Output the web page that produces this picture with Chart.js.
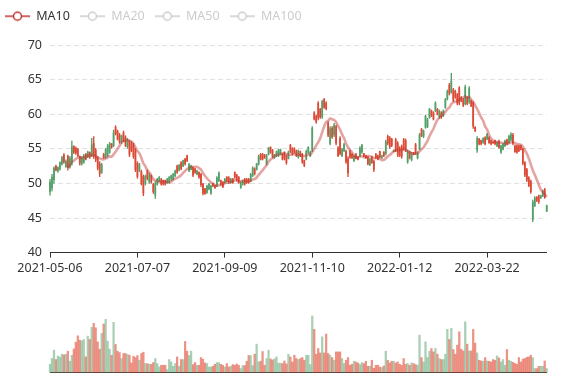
<!DOCTYPE html>
<html><head><meta charset="utf-8">
<script src="https://cdn.jsdelivr.net/npm/chart.js@4/dist/chart.umd.min.js"></script>
<style>
html,body{margin:0;padding:0;background:#fff;width:577px;height:380px;overflow:hidden;position:relative}
#c1{position:absolute;left:-5px;top:0}
#c2{position:absolute;left:-5px;top:300px}
</style></head><body>
<canvas id="c1" width="582" height="283"></canvas>
<canvas id="c2" width="582" height="80"></canvas>
<script>
const tickLabels = ['2021-05-06','2021-07-07','2021-09-09','2021-11-10','2022-01-12','2022-03-22'];
const tickEvery = 44;
const legendNames = ['MA10','MA20','MA50','MA100'];

const open = [
48.8,49.3,50.5,52.5,51.8,52.1,52.8,54.1,52.4,53.9,
52.4,53.0,55.3,55.1,54.9,53.9,52.9,53.1,54.2,53.8,
54.5,54.0,55.8,54.8,53.6,52.8,51.6,54.2,53.8,54.0,
54.5,55.7,55.5,58.1,57.5,57.0,56.0,57.3,56.7,55.3,
56.0,55.8,55.5,54.8,52.9,51.9,51.7,51.0,50.0,51.7,
50.2,51.0,49.9,48.3,49.9,50.3,50.6,50.4,50.4,50.1,
50.2,50.7,50.6,51.1,52.5,51.9,53.0,52.5,53.5,54.0,
51.8,52.0,52.3,52.1,51.3,51.6,51.3,49.9,49.2,48.7,
49.2,48.6,49.95,49.7,49.6,50.4,50.4,50.2,50.1,50.9,
50.8,50.1,50.6,51.6,51.2,50.9,49.4,49.9,50.6,50.6,
50.6,50.4,51.1,52.1,52.0,52.8,54.2,54.2,54.1,52.9,
54.2,55.2,54.8,53.7,54.0,54.0,54.2,54.2,54.5,54.0,
53.6,55.5,55.0,55.0,54.7,53.8,54.6,54.2,53.3,53.5,
54.5,54.0,54.8,60.2,59.7,61.6,60.7,59.6,62.1,61.6,
58.7,55.8,58.0,57.0,58.2,55.1,56.5,54.0,54.7,54.6,
53.6,54.6,54.2,53.3,54.2,53.8,54.0,54.5,54.3,54.0,
53.8,52.7,53.8,53.2,54.2,54.0,54.6,53.7,54.5,54.3,
56.8,56.6,56.4,54.6,56.3,55.8,55.1,55.3,56.3,56.2,
53.1,54.5,53.4,54.4,55.6,53.7,55.0,57.8,56.8,58.1,
58.2,59.5,60.5,60.2,60.5,60.7,59.6,60.2,59.8,61.0,
62.2,64.2,63.2,63.5,63.3,62.8,63.8,62.4,62.1,61.5,
62.4,61.8,61.9,61.6,58.1,54.8,56.4,56.2,55.9,56.6,
56.4,56.6,56.2,56.0,56.2,55.4,56.1,54.5,54.9,55.4,
56.3,55.9,56.3,57.0,55.4,55.4,55.4,55.4,54.9,53.0,
52.0,50.8,50.3,44.8,46.8,48.0,48.2,47.9,48.2,49.1,
46.0];
const high = [
50.6,51.3,52.4,52.65,52.4,53.1,53.9,54.3,53.4,54.1,
53.9,56.1,55.45,55.3,55.06,54.0,53.86,54.2,54.34,54.68,
54.58,56.5,56.75,55.06,53.86,53.14,52.9,54.34,55.06,55.64,
55.93,55.79,57.71,58.34,57.71,57.23,56.99,57.57,56.89,56.51,
56.27,56.03,55.79,55.06,53.14,52.9,51.93,51.21,51.21,51.93,
51.45,51.21,50.01,50.25,50.73,50.97,50.73,50.49,50.49,50.73,
50.97,51.2,51.45,51.93,52.65,52.75,53.14,53.38,53.62,54.1,
52.9,52.65,52.41,52.17,51.93,51.69,51.45,50.01,49.28,49.76,
50.01,49.76,50.01,49.76,50.97,51.69,50.49,50.25,50.73,50.97,
50.97,50.73,50.73,51.69,51.31,50.97,50.25,50.49,50.73,50.73,
50.73,51.45,52.41,52.27,52.9,54.1,54.34,54.34,54.2,54.2,
55.21,55.3,54.92,54.2,54.68,54.92,54.97,54.34,54.58,54.1,
54.68,55.65,55.17,55.17,54.83,54.83,54.68,54.35,53.38,54.83,
55.31,54.68,58.2,60.37,59.88,61.81,60.85,62.05,62.29,61.81,
58.92,58.2,58.2,58.68,58.44,55.31,56.75,55.07,55.79,54.83,
53.86,54.83,54.35,54.1,54.35,53.86,55.31,55.65,54.35,54.1,
53.86,53.62,53.86,53.38,54.35,54.1,54.68,54.1,54.59,56.27,
57.0,56.75,56.51,54.85,56.51,56.03,55.31,55.55,56.51,56.42,
54.83,54.68,54.49,54.49,55.79,54.59,57.24,57.96,57.72,59.88,
59.4,60.85,60.61,60.37,61.81,60.85,60.61,60.37,60.61,62.29,
63.5,64.46,65.91,63.74,63.5,63.02,63.98,62.53,62.29,64.22,
62.53,63.98,62.05,61.81,58.2,56.75,56.51,56.27,56.61,56.75,
57.24,56.75,56.27,56.03,56.27,56.03,56.27,55.55,55.79,56.27,
56.42,56.99,57.33,57.24,55.55,55.55,55.55,55.55,55.07,53.14,
52.18,50.97,50.49,47.6,48.08,48.08,48.32,48.32,49.05,49.29,
46.88];
const low = [
48.3,48.9,50.0,51.8,51.6,51.9,52.65,52.9,52.3,51.9,
52.2,52.65,54.3,54.2,53.86,52.65,52.65,52.9,53.38,53.71,
53.62,53.86,53.62,53.14,51.93,50.97,51.45,53.62,53.62,53.86,
54.34,55.06,55.3,56.99,56.27,55.79,55.79,56.03,55.3,55.06,
53.86,54.58,53.62,51.69,50.73,51.69,49.76,48.22,49.76,50.49,
50.01,50.01,48.56,47.84,49.76,50.25,49.76,49.76,49.76,50.01,
50.01,50.4,50.49,50.97,51.45,51.79,51.93,52.41,52.65,53.14,
51.69,51.93,50.97,51.45,51.21,50.73,49.52,48.32,48.42,48.56,
49.04,48.42,49.52,49.28,49.52,50.25,49.76,49.38,50.01,50.25,
50.01,50.01,50.01,50.73,50.34,50.01,49.28,49.76,49.76,50.01,
50.01,50.25,50.97,51.21,51.93,52.65,53.38,53.38,53.62,52.65,
54.1,54.34,53.71,53.62,53.86,53.86,54.1,53.38,53.38,52.75,
53.52,54.44,54.1,54.35,53.86,53.62,53.86,52.9,52.42,53.38,
54.35,53.86,54.59,59.16,58.68,59.16,59.4,59.4,60.85,60.61,
56.75,55.55,56.51,56.75,55.55,53.86,54.1,53.86,54.59,52.9,
50.97,53.62,53.62,53.14,53.53,53.38,53.86,54.35,53.86,53.62,
52.66,52.56,52.9,51.7,53.62,53.38,53.72,53.62,53.86,54.1,
55.55,55.07,55.31,54.55,54.59,53.86,53.86,53.62,54.83,54.59,
52.9,53.53,53.24,54.1,54.2,53.53,54.83,56.75,56.61,57.96,
58.05,59.4,59.64,59.16,60.37,59.88,59.4,59.4,59.64,60.85,
62.05,62.77,63.02,61.81,62.29,61.33,61.33,61.81,61.09,61.33,
61.33,61.57,61.09,57.96,57.48,54.49,55.55,55.55,55.79,55.55,
56.27,55.79,55.55,55.79,55.55,55.31,55.07,54.35,54.83,55.31,
55.55,55.79,56.13,55.55,54.49,54.35,54.59,54.83,52.66,50.97,
50.25,49.53,48.56,44.47,46.64,47.36,47.12,47.84,48.08,47.84,
45.92];
const close = [
50.2,50.9,52.2,51.9,52.3,53.0,53.7,53.1,53.2,52.3,
53.6,55.3,54.5,54.4,54.0,52.9,53.7,54.0,53.5,54.5,
53.8,55.6,54.0,53.4,52.2,51.4,52.7,53.7,54.9,55.4,
55.7,55.2,57.3,57.2,56.4,56.0,56.8,56.2,55.5,56.3,
54.2,54.8,53.9,52.0,51.0,52.7,50.0,48.6,51.0,50.7,
51.2,50.2,48.8,49.9,50.6,50.9,49.9,49.9,49.9,50.6,
50.9,51.1,51.3,51.8,51.6,52.6,52.1,53.3,52.8,53.3,
52.7,52.5,51.2,51.6,51.8,50.9,49.8,48.6,48.5,49.6,
49.9,49.6,49.6,49.35,50.8,51.5,49.9,49.5,50.6,50.3,
50.2,50.6,50.1,50.9,50.5,50.2,50.1,50.4,49.9,50.1,
50.15,51.3,52.2,51.4,52.8,53.9,53.5,53.5,53.7,54.0,
55.1,54.5,53.9,54.1,54.6,54.8,54.9,53.5,53.6,53.0,
54.5,54.6,54.3,54.5,54.0,54.7,54.0,53.1,52.6,54.6,
55.2,54.5,58.0,59.3,58.9,59.5,59.6,61.8,61.0,60.8,
57.0,57.9,56.7,58.4,55.8,54.0,54.3,54.9,55.6,53.1,
51.5,53.8,53.7,53.9,53.6,53.45,55.1,55.5,53.9,53.7,
52.8,53.5,53.0,52.0,53.7,53.5,53.8,54.0,53.95,56.0,
55.8,55.3,55.5,54.8,54.8,54.1,54.0,53.9,55.0,54.8,
54.6,53.7,54.3,54.15,54.4,54.4,57.0,56.9,57.6,59.7,
59.2,60.7,59.8,59.3,61.6,60.0,60.4,59.6,60.5,62.1,
63.3,63.0,64.8,62.0,62.5,61.6,61.6,61.9,61.3,63.9,
61.5,63.7,61.2,58.3,57.6,56.5,55.7,55.7,56.5,55.7,
57.1,55.9,55.7,55.85,55.7,55.9,55.2,55.4,55.7,56.1,
55.7,56.8,57.1,55.8,54.6,54.5,54.7,54.9,52.9,51.2,
50.5,49.7,48.8,47.3,47.9,47.5,47.3,48.2,48.9,48.0,
46.8];
const volume = [
8,13.7,22,12.7,16.3,15,18,17.3,18,21,
11,17,23.3,30,36.3,32,31.3,32.7,15.3,36,
32.7,44.7,48.7,44.3,30.3,23,38.7,48,52.7,31,
23,17,49.7,27.7,21,19.7,13.7,18.7,18.7,17.7,
17,9.3,16,14.7,16.7,12,18.7,20,8.7,8.7,
8,8,9.7,13.7,8.7,5.3,7,7,7,2.7,
12.7,10.3,6,8.7,15.3,6,12.7,12.7,30.7,21,
16.7,21,7.7,9.7,7,7,14.7,13,9.3,8.7,
5.3,5.3,6,8,9.7,9.7,8,7,5.3,8.7,
5.3,6,7.7,7,8.3,7,3.7,6.7,6.7,11,
16.7,16.7,6.7,18,28,10.3,11,20.7,7,13.7,
22,13.3,12.3,13.3,15.3,9,9,8.7,11.3,8.3,
18,15.3,10.3,17,13.7,12.7,13.7,14.7,12,17,
17,7.7,56,42.7,18,23.7,19.3,35.3,19.3,38,
18.7,17,14.7,12,20.3,20.3,20.3,13.7,8.7,12,
14.7,7,8,11,10.3,9.3,7.7,9.7,8.7,11,
6,6,12,4,7,7,5.3,4.7,6.3,21,
12,9.3,11,11,9.3,10.3,8,7,13.7,8,
8.7,7,9.3,8.7,7.7,7,37,14.7,10.3,30.3,
14.7,21,23.7,20.3,23.7,18,13.7,12.7,12.7,18,
42.7,32.7,43.7,22.7,18,27,40.3,23,21.3,50.3,
28,21.3,21.3,42.7,29,19.3,12,11.3,11,14.7,
11.3,11,10.3,12.7,12,16.3,14.3,10.3,12.7,7,
22.7,12,11,10,8.7,8,14.7,10.3,13,13.7,
15,15.3,17,14.7,3.7,3.7,6,6,6,11.3,
3.7];

const UP = '#54a06a', DOWN = '#dc4a36';
const UPV = 'rgba(84,160,106,0.5)', DOWNV = 'rgba(226,80,60,0.62)';
const labels = close.map((_, i) => i % tickEvery === 0 ? (tickLabels[i / tickEvery] || '') : '');
const ma10 = close.map((_, i) => {
  if (i < 9) return null;
  let s = 0; for (let j = i - 9; j <= i; j++) s += close[j];
  return s / 10;
});
const isUp = close.map((c, i) => c >= open[i]);
const candleColor = isUp.map(u => u ? UP : DOWN);
const volColor = isUp.map(u => u ? UPV : DOWNV);

function legendIcon(color) {
  const c = document.createElement('canvas');
  c.width = 25; c.height = 14;
  const g = c.getContext('2d');
  g.strokeStyle = color; g.lineWidth = 1.5;
  g.beginPath(); g.moveTo(0, 7); g.lineTo(25, 7); g.stroke();
  g.beginPath(); g.arc(12.5, 7, 4, 0, Math.PI * 2);
  g.fillStyle = '#fff'; g.fill(); g.stroke();
  return c;
}
const FONT = 'Noto Sans';
const legendGap = {
  id: 'legendGap',
  beforeUpdate(chart) {
    const lg = chart.legend;
    if (lg && !lg._gapPatched) {
      const f = lg.fit;
      lg.fit = function () { f.call(this); this.height += 12.5; };
      lg._gapPatched = true;
    }
  }
};

new Chart(document.getElementById('c1'), {
  type: 'bar',
  data: {
    labels,
    datasets: [
      { type: 'line', label: 'MA10', data: ma10, borderColor: 'rgba(194,53,49,0.45)', borderWidth: 2.6,
        pointRadius: 0, tension: 0.35, order: 0, clip: false },
      { label: 'body', data: open.map((o, i) => [o, close[i]]), backgroundColor: candleColor,
        barThickness: 1.1, grouped: false, clip: false, minBarLength: 1, order: 1 },
      { label: 'wick', data: low.map((l, i) => [l, high[i]]), backgroundColor: candleColor,
        barThickness: 0.7, grouped: false, clip: false, order: 2 }
    ]
  },
  options: {
    responsive: false, animation: false,
    layout: { padding: { left: 0, right: 30.3, top: 0, bottom: 0 } },
    plugins: {
      tooltip: { enabled: false },
      legend: {
        align: 'start',
        onClick: null,
        labels: {
          usePointStyle: true, pointStyleWidth: 25, padding: 10,
          font: { family: FONT, size: 12.5 },
          generateLabels: () => legendNames.map((n, i) => ({
            text: n, fillStyle: '#fff', strokeStyle: i === 0 ? '#c23531' : '#ccc',
            fontColor: i === 0 ? '#333' : '#ccc', lineWidth: 0, hidden: false,
            pointStyle: legendIcon(i === 0 ? '#c23531' : '#ccc'), datasetIndex: 0
          }))
        }
      }
    },
    scales: {
      x: {
        offset: false,
        grid: { drawOnChartArea: false, drawTicks: true, tickLength: 5, color: '#333', offset: false },
        border: { display: true, color: '#333', width: 1 },
        ticks: { autoSkip: false, maxRotation: 0, color: '#333', padding: 3, font: { family: FONT, size: 12.5 } },
        afterBuildTicks: s => { s.ticks = s.ticks.filter(t => t.value % tickEvery === 0); },
        afterFit: s => { s.height = 30.4; }
      },
      y: {
        min: 40, max: 70,
        ticks: { stepSize: 5, color: '#333', padding: 8, font: { family: FONT, size: 12.5 } },
        grid: { color: '#e0e0e0', drawTicks: false },
        border: { display: false, dash: [5, 3] },
        afterFit: s => { s.width = 55; }
      }
    }
  },
  plugins: [legendGap]
});

new Chart(document.getElementById('c2'), {
  type: 'bar',
  data: { labels, datasets: [{ data: volume, backgroundColor: volColor, barThickness: 1.6, clip: false }] },
  options: {
    responsive: false, animation: false,
    layout: { padding: { left: 55, right: 30.3, top: 12, bottom: 7.7 } },
    plugins: { legend: { display: false }, tooltip: { enabled: false } },
    scales: {
      x: { offset: false, grid: { display: false }, ticks: { display: false },
           border: { display: true, color: '#333' }, afterFit: s => { s.height = 0; } },
      y: { display: false, min: 0, max: 60 }
    }
  }
});
</script></body></html>
